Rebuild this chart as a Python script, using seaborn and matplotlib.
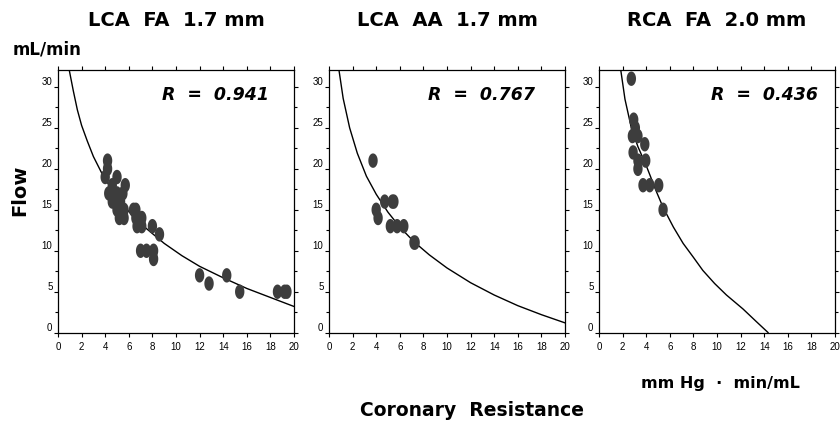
import numpy as np
import matplotlib
matplotlib.use("Agg")
import matplotlib.pyplot as plt
from matplotlib.path import Path
import seaborn as sns

# panel titles and correlation labels
titles = ["LCA  FA  1.7 mm", "LCA  AA  1.7 mm", "RCA  FA  2.0 mm"]
r_labels = ["R  =  0.941", "R  =  0.767", "R  =  0.436"]
r_xpos = [0.894, 0.873, 0.928]

# LCA FA points
lca_fa_x = [4.2, 4.2, 4.0, 5.0, 4.6, 5.7, 4.3, 5.0, 5.5, 4.6, 5.3, 5.0, 5.6, 6.4, 6.6,
            5.2, 5.6, 6.6, 7.1, 6.7, 7.1, 8.0, 8.6, 7.0, 7.5, 8.1, 8.1,
            12.0, 12.8, 14.3, 15.4, 18.6, 19.2, 19.4]
lca_fa_y = [21, 20, 19, 19, 18, 18, 17, 17, 17, 16, 16, 15, 15, 15, 15,
            14, 14, 14, 14, 13, 13, 13, 12, 10, 10, 10, 9,
            7, 6, 7, 5, 5, 5, 5]
lca_fa_cx = [0.96, 1.3, 1.64, 2.0, 2.48, 3.0, 3.7, 4.5, 5.5, 6.5, 7.5, 9.0, 10.5, 12, 14, 16, 18, 20]
lca_fa_cy = [32, 29.5, 27.2, 25.3, 23.4, 21.5, 19.5, 17.6, 15.6, 14.0, 12.7, 10.9, 9.4, 8.1, 6.7, 5.4, 4.3, 3.2]

# LCA AA points
lca_aa_x = [3.73, 4.0, 4.16, 4.72, 5.37, 5.5, 5.2, 5.77, 6.34, 7.2, 7.3]
lca_aa_y = [21, 15, 14, 16, 16, 16, 13, 13, 13, 11, 11]
lca_aa_cx = [0.85, 1.2, 1.75, 2.4, 3.17, 4, 5, 6, 7.2, 8.5, 10, 12, 14, 16, 18, 20]
lca_aa_cy = [32, 28.6, 25.0, 21.9, 19.1, 16.9, 14.7, 12.9, 11.1, 9.5, 7.9, 6.1, 4.6, 3.3, 2.2, 1.2]

# RCA FA points
rca_fa_x = [2.74, 2.94, 3.08, 2.83, 3.3, 3.88, 2.89, 3.3, 3.96, 3.3, 3.73, 4.3, 5.06, 5.43]
rca_fa_y = [31, 26, 25, 24, 24, 23, 22, 21, 21, 20, 18, 18, 18, 15]
rca_fa_cx = [1.85, 2.2, 2.74, 3.3, 4.0, 4.87, 5.43, 6.3, 7.13, 8.0, 8.8, 9.8, 10.8, 12.2, 13.3, 14.34]
rca_fa_cy = [32, 28.5, 25.0, 22.7, 20.4, 17.2, 15.3, 12.9, 10.9, 9.2, 7.6, 6.0, 4.6, 2.9, 1.4, 0]

panels = [
    (lca_fa_x, lca_fa_y, lca_fa_cx, lca_fa_cy),
    (lca_aa_x, lca_aa_y, lca_aa_cx, lca_aa_cy),
    (rca_fa_x, rca_fa_y, rca_fa_cx, rca_fa_cy),
]

sns.set_style("ticks")
plt.rcParams["font.family"] = ["Liberation Sans", "DejaVu Sans"]

fig = plt.figure(figsize=(8.4, 4.23), dpi=100)

lefts = [58, 329, 599]
bold = dict(family="DejaVu Sans", weight="bold", color="black")

# vertically stretched dot
t = np.linspace(0, 2 * np.pi, 40)
dot = Path(np.column_stack([0.65 * np.cos(t), np.sin(t)]))

for i, (px, py, cx, cy) in enumerate(panels):
    ax = fig.add_axes([lefts[i] / 840, 90.3 / 423, 236 / 840, 262.2 / 423])
    sns.lineplot(x=cx, y=cy, ax=ax, color="black", lw=1.0, sort=False, estimator=None)
    sns.scatterplot(x=px, y=py, ax=ax, marker=dot, s=108, color="#3d3d3d",
                    edgecolor="none", linewidth=0, zorder=3)
    ax.set_xlim(0, 20)
    ax.set_ylim(0, 32)
    ax.set_xticks(np.arange(0, 21, 2))
    ax.set_yticks(np.arange(0, 31, 5))
    ax.set_yticks(np.arange(2.5, 31, 5), minor=True)
    for sp in ax.spines.values():
        sp.set_visible(True)
        sp.set_color("black")
        sp.set_linewidth(0.9)
    ax.tick_params(axis="x", which="major", direction="out", length=3, width=0.8,
                   top=True, labeltop=False, labelsize=7, pad=4, colors="black")
    ax.tick_params(axis="y", which="both", direction="out", length=3, width=0.8,
                   right=True, labelright=False, labelsize=7, pad=1, colors="black")
    ax.tick_params(axis="y", which="minor", length=2.5)
    for lab in ax.get_yticklabels():
        lab.set_va("bottom")
    ax.set_xlabel("")
    ax.set_ylabel("")
    ax.text(r_xpos[i], 0.905, r_labels[i], transform=ax.transAxes, ha="right", va="center",
            fontsize=12.5, style="italic", **bold)
    fig.text((lefts[i] + 118) / 840, 1 - 20 / 423, titles[i], ha="center", va="center",
             fontsize=14, **bold)

fig.text(13 / 840, 1 - 50 / 423, "mL/min", ha="left", va="center", fontsize=12, **bold)
fig.text(20 / 840, 1 - 190 / 423, "Flow", ha="center", va="center", rotation=90,
         fontsize=14, **bold)
fig.text(472 / 840, 1 - 410 / 423, "Coronary  Resistance", ha="center", va="center",
         fontsize=13.5, **bold)
fig.text(720 / 840, 1 - 383 / 423, "mm Hg  ·  min/mL", ha="center", va="center",
         fontsize=11.5, **bold)

fig.savefig("out.png", dpi=100)
